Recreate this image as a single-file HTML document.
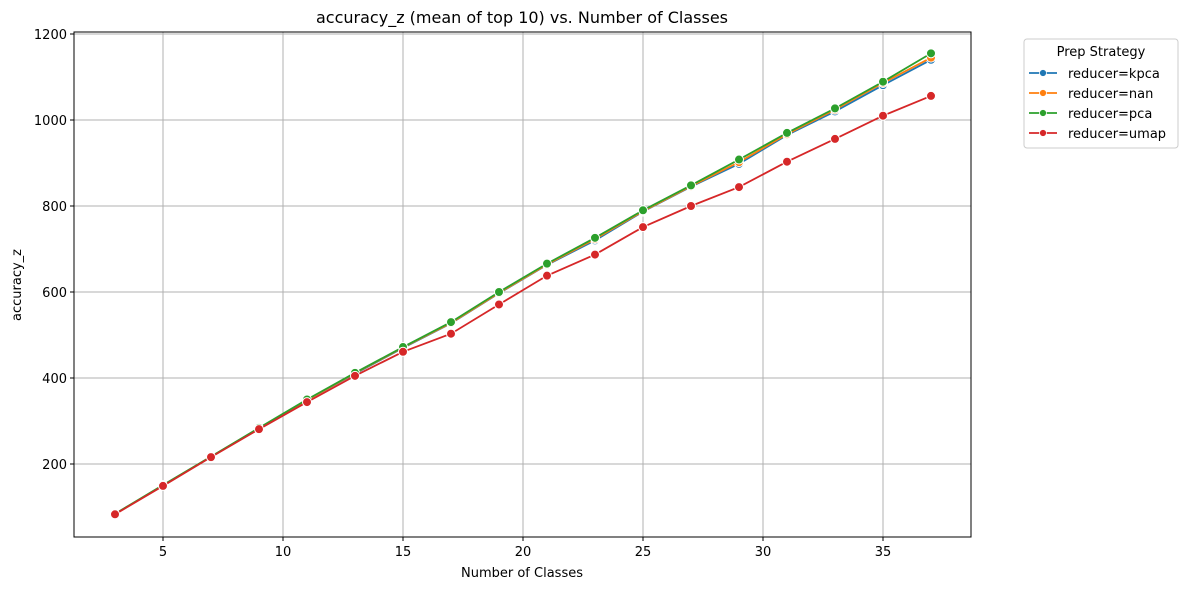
<!DOCTYPE html>
<html><head><meta charset="utf-8"><style>
body{margin:0;background:#fff;font-family:"Liberation Sans","DejaVu Sans",sans-serif;}
svg text{font-family:"DejaVu Sans","Liberation Sans",sans-serif;}
</style></head><body>
<svg id="chart" width="1188" height="590" xmlns="http://www.w3.org/2000/svg">
<rect width="1188" height="590" fill="#fff"/>
<text x="522" y="23" font-size="16" text-anchor="middle" fill="#000">accuracy_z (mean of top 10) vs. Number of Classes</text>
<g id="grid"></g>
<g id="series"></g>
<rect x="74" y="32" width="897" height="505" fill="none" stroke="#000" stroke-width="1"/>
<g id="axes"></g>
<text x="522" y="577" font-size="13" text-anchor="middle">Number of Classes</text>
<text transform="translate(21,285) rotate(-90)" font-size="13" text-anchor="middle">accuracy_z</text>
<g>
<rect x="1024" y="39" width="154" height="109" rx="3" fill="#fff" stroke="#ccc"/>
<text x="1101" y="56" font-size="13" text-anchor="middle">Prep Strategy</text>
<g id="legend"></g>
</g>
</svg>
<script>
const xs=[3,5,7,9,11,13,15,17,19,21,23,25,27,29,31,33,35,37];
const kpca=[84,150,217,283,349,410,470,527,597,663,720,787,845,898,965,1020,1081,1140];
const nan=[84,150,217,283,349,411,471,528,598,664,723,788,846,902,967,1024,1086,1145];
const pca=[84,151,217,284,350,412,472,530,600,666,726,790,848,908,970,1027,1089,1155];
const umap=[83,149,216,281,344,405,461,503,571,638,687,751,800,844,903,956,1010,1056];
const seriesNames=["reducer=kpca","reducer=nan","reducer=pca","reducer=umap"];
const xTicks=[5,10,15,20,25,30,35];
const yTicks=[200,400,600,800,1000,1200];
const colors=["#1f77b4","#ff7f0e","#2ca02c","#d62728"];
const NS="http://www.w3.org/2000/svg";
const X=v=>163+(v-5)*24;
const Y=v=>464-(v-200)*0.43;
function mk(t,a,p){const e=document.createElementNS(NS,t);for(const k in a)e.setAttribute(k,a[k]);p.appendChild(e);return e;}
const grid=document.getElementById('grid'),axes=document.getElementById('axes');
xTicks.forEach(t=>{const x=X(t);
const g=mk('line',{x1:x,x2:x,y1:32,y2:537,stroke:'#b0b0b0','stroke-width':1},grid);


mk('line',{x1:x,x2:x,y1:537,y2:541,stroke:'#000'},axes);
const l=mk('text',{x:x,y:556,'font-size':13,'text-anchor':'middle'},axes);l.textContent=t;

});
yTicks.forEach(t=>{const y=Y(t);
const g=mk('line',{x1:74,x2:971,y1:y,y2:y,stroke:'#b0b0b0','stroke-width':1},grid);


mk('line',{x1:70,x2:74,y1:y,y2:y,stroke:'#000'},axes);
const l=mk('text',{x:67,y:y+5,'font-size':13,'text-anchor':'end'},axes);l.textContent=t;

});
const ser=document.getElementById('series');
[kpca,nan,pca,umap].forEach((d,i)=>{
const g=mk('g',{},ser);


const p=mk('polyline',{points:d.map((v,j)=>X(xs[j])+','+Y(v)).join(' '),fill:'none',stroke:colors[i],'stroke-width':1.8},g);


d.forEach((v,j)=>{const c=mk('circle',{cx:X(xs[j]),cy:Y(v),r:4.5,fill:colors[i],stroke:'#fff','stroke-width':1},g);

});
});
const lg=document.getElementById('legend');
seriesNames.forEach((n,i)=>{const y=73+i*20;
const g=mk('g',{},lg);


mk('line',{x1:1029,x2:1057,y1:y,y2:y,stroke:colors[i],'stroke-width':1.8},g);
mk('circle',{cx:1043,cy:y,r:3.5,fill:colors[i],stroke:'#fff','stroke-width':0.8},g);
const t=mk('text',{x:1068,y:y+5,'font-size':13},g);t.textContent=n;});
</script>
</body></html>
